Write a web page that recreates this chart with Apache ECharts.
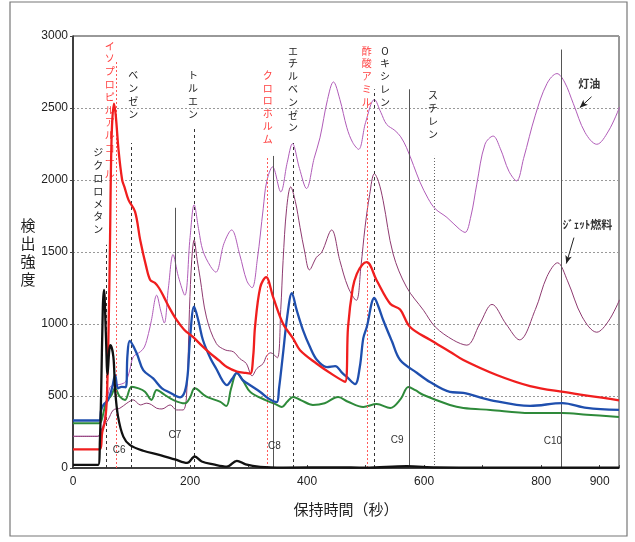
<!DOCTYPE html>
<html><head><meta charset="utf-8">
<script src="https://cdn.jsdelivr.net/npm/echarts@6/dist/echarts.min.js"></script>
<style>html,body{margin:0;padding:0;background:#fff}#c{width:635px;height:542px}</style>
</head><body><div id="c"></div>
<script>
// retention time (s) / detector response pairs
const kerosene = [[0,220],[42,220],[48,250],[53,330],[57,430],[63,560],[70,575],[80,580],[90,600],[97,680],[103,772],[115,807],[122,840],[129,934],[134,1026],[143,1200],[150,1090],[156,1007],[163,1250],[171,1482],[180,1330],[191,1200],[200,1600],[207,1828],[215,1650],[222,1509],[235,1400],[244,1360],[258,1560],[271,1653],[285,1480],[297,1300],[306,1252],[315,1450],[325,1800],[331,1990],[341,2091],[355,1918],[366,2120],[375,2252],[387,2080],[399,1941],[412,2150],[422,2293],[435,2560],[445,2681],[456,2560],[468,2363],[478,2260],[488,2213],[500,2400],[515,2559],[526,2470],[536,2386],[550,2344],[560,2300],[570,2224],[582,2100],[593,1985],[607,1870],[619,1800],[639,1740],[660,1660],[670,1636],[680,1750],[690,1971],[704,2248],[718,2305],[730,2220],[745,2060],[758,1994],[770,2150],[790,2450],[810,2670],[827,2739],[840,2680],[855,2530],[875,2330],[895,2248],[915,2340],[934,2506]];
const jetFuel = [[0,220],[42,220],[50,280],[60,335],[69,403],[80,415],[92,450],[103,473],[115,438],[126,450],[134,440],[143,415],[152,410],[166,438],[177,403],[188,403],[194,500],[199,1100],[203,1450],[207,1584],[212,1450],[217,1325],[228,1048],[245,864],[260,820],[274,807],[285,760],[296,726],[306,640],[314,690],[325,726],[331,780],[338,800],[349,765],[355,1100],[359,1440],[365,1800],[372,1952],[380,1850],[388,1671],[396,1500],[404,1376],[416,1463],[425,1498],[442,1653],[456,1440],[470,1256],[484,1164],[492,1400],[499,1671],[507,1900],[515,2044],[522,1990],[530,1856],[547,1487],[570,1256],[599,1095],[619,980],[650,888],[673,853],[695,1000],[716,1136],[740,1000],[763,890],[790,1100],[810,1330],[828,1425],[845,1300],[870,1050],[895,943],[915,1020],[934,1168]];
const green = [[0,310],[45,310],[49,334],[57,461],[65,500],[72,553],[80,495],[89,473],[100,564],[112,553],[123,530],[134,473],[143,541],[157,507],[171,473],[191,449],[200,490],[208,553],[228,495],[251,461],[262,430],[270,550],[280,660],[290,610],[303,528],[330,470],[345,445],[357,424],[366,460],[376,493],[390,470],[410,438],[430,450],[453,493],[470,460],[496,424],[519,444],[542,417],[560,480],[573,563],[585,540],[599,507],[644,438],[667,417],[713,403],[781,382],[836,382],[878,370],[933,354]];
const blue = [[0,330],[45,330],[48,400],[52,438],[60,473],[67,560],[72,645],[77,553],[83,564],[90,560],[93,780],[97,882],[109,795],[120,680],[137,622],[152,553],[166,523],[183,491],[191,530],[196,650],[200,900],[207,1120],[215,1010],[222,889],[235,760],[246,681],[255,610],[263,576],[272,620],[280,660],[290,610],[297,590],[320,528],[335,480],[348,458],[352,550],[359,798],[366,1050],[374,1215],[382,1100],[393,958],[405,840],[417,750],[434,701],[448,708],[460,660],[468,632],[482,583],[490,700],[496,900],[502,979],[515,1181],[522,1120],[530,1028],[545,880],[559,750],[588,660],[610,597],[644,528],[667,521],[713,472],[781,431],[836,451],[878,417],[933,403]];
const red = [[0,130],[45,130],[50,250],[55,334],[58,500],[61,1000],[63,1500],[66,2300],[70,2530],[73,2450],[78,2200],[84,2000],[88,1950],[95,1860],[106,1780],[115,1580],[125,1400],[132,1305],[140,1285],[147,1250],[155,1190],[165,1110],[177,1028],[190,960],[205,910],[220,850],[234,798],[250,745],[263,701],[280,670],[295,660],[303,656],[308,780],[311,979],[320,1256],[330,1326],[342,1186],[359,1002],[376,900],[388,818],[416,726],[445,645],[465,599],[470,979],[478,1250],[485,1348],[494,1410],[502,1429],[519,1302],[542,1141],[559,1100],[576,979],[610,890],[644,808],[667,750],[724,646],[781,569],[838,528],[933,470]];
const black = [[0,22],[43,22],[46,196],[48,500],[51,1118],[53,1236],[56,950],[59,650],[62,820],[64,853],[69,772],[72,541],[77,357],[86,218],[97,161],[120,120],[149,90],[174,60],[195,35],[208,80],[220,45],[240,25],[263,10],[280,50],[295,25],[320,8],[360,3],[450,5],[500,2],[570,12],[620,5],[700,2],[933,2]];

// reference lines: retention time, top of line (response units), kind
const refTimes = [56,74,100,174,207,332,343,377,503,515,574,618,835];
const refTops  = [1551,2824,2257,1807,2360,2167,2167,2257,2547,2630,2630,2167,2906];
const refKinds = ['dash','red','dash','solid','dash','red','solid','dash','red','dash','solid','dot','solid'];

const compoundNames  = ['ジクロロメタン','イソプロピルアルコール','ベンゼン','トルエン','クロロホルム','エチルベンゼン','酢酸アミル','Oキシレン','スチレン'];
const compoundLabelX = [43,63,103,205,333,376,502,533,615];
const compoundLabelY = [2235,2976,2770,2770,2773,2941,2941,2941,2630];
const compoundRed    = [false,true,false,false,true,false,true,false,false];

const carbonNames  = ['C6','C7','C8','C9','C10'];
const carbonLabelX = [79,174,344,554,820];
const carbonLabelY = [122,230,154,196,184];

const fuelNames  = ['灯油','ｼﾞｪｯﾄ燃料'];
const fuelLabelX = [882,879];
const fuelLabelY = [2671,1690];
const arrowFrom  = [[886,2578],[856,1600]];
const arrowTo    = [[866,2502],[843,1420]];

const xLabelsShown = [0,200,400,600,800,900];

const JP = '"Noto Sans CJK JP", sans-serif';
const NUM = '"Liberation Sans", Arial, sans-serif';

const kindStyle = {
  dash:  {color:'#333', width:1, type:[3,3]},
  red:   {color:'#ff5a5a', width:1, type:[2,2]},
  solid: {color:'#555', width:1, type:'solid'},
  dot:   {color:'#666', width:1, type:[1,2]}
};

const refLineData = refTimes.map((t,i)=>{
  const ls = kindStyle[refKinds[i]];
  return [{coord:[t,0], lineStyle:ls, symbol:'none'}, {coord:[t,refTops[i]], lineStyle:ls, symbol:'none'}];
});
const arrowData = arrowFrom.map((f,i)=>[
  {coord:f, lineStyle:{color:'#222',width:1,type:'solid'}, symbol:'none'},
  {coord:arrowTo[i], lineStyle:{color:'#222',width:1,type:'solid'}, symbol:'arrow', symbolSize:[5,8]}
]);

const points = [];
compoundNames.forEach((n,i)=>{
  points.push({coord:[compoundLabelX[i], compoundLabelY[i]], symbol:'circle', symbolSize:0,
    label:{show:true, position:[0,0], align:'center', verticalAlign:'top',
      formatter: n.split('').join('\n'), fontFamily:JP, fontSize:10, lineHeight:12.8,
      color: compoundRed[i] ? '#ff4040' : '#222'}});
});
carbonNames.forEach((n,i)=>{
  points.push({coord:[carbonLabelX[i], carbonLabelY[i]], symbol:'circle', symbolSize:0,
    label:{show:true, position:[0,0], align:'center', verticalAlign:'middle',
      formatter:n, fontFamily:NUM, fontSize:10, color:'#333'}});
});
fuelNames.forEach((n,i)=>{
  points.push({coord:[fuelLabelX[i], fuelLabelY[i]], symbol:'circle', symbolSize:0,
    label:{show:true, position:[0,0], align:'center', verticalAlign:'middle',
      formatter:n, fontFamily:JP, fontSize:11, fontWeight:'bold', color:'#333'}});
});

function lineSeries(name, data, color, width, z){
  return {name, type:'line', data, showSymbol:false, symbol:'none', smooth:0.35, z,
    lineStyle:{color, width}, itemStyle:{color}, animation:false};
}

const chart = echarts.init(document.getElementById('c'), null, {renderer:'canvas'});
chart.setOption({
  animation:false,
  backgroundColor:'#fff',
  graphic:[{type:'rect', shape:{x:10,y:2,width:617,height:534}, style:{fill:'none', stroke:'#777', lineWidth:1.2}, silent:true}],
  grid:{left:73, right:16, top:36, bottom:74, show:true, borderColor:'#333', borderWidth:1, backgroundColor:'transparent'},
  xAxis:{type:'value', min:0, max:933, interval:100,
    name:'保持時間（秒）', nameLocation:'middle', nameGap:34,
    nameTextStyle:{fontFamily:JP, fontSize:15, color:'#222'},
    axisLine:{show:true, onZero:false, lineStyle:{color:'#222', width:1.5}},
    axisTick:{show:true, inside:true, length:3, lineStyle:{color:'#444'}},
    axisLabel:{fontFamily:NUM, fontSize:12, color:'#222', margin:8,
      formatter:v=> xLabelsShown.includes(v) ? String(v) : ''},
    splitLine:{show:false}},
  yAxis:{type:'value', min:0, max:3000, interval:500,
    name:'検\n出\n強\n度', nameLocation:'middle', nameGap:37, nameRotate:0,
    nameTextStyle:{fontFamily:JP, fontSize:15, color:'#222', lineHeight:18},
    axisLine:{show:true, lineStyle:{color:'#222', width:1.5}},
    axisTick:{show:true, length:3, lineStyle:{color:'#444'}},
    axisLabel:{fontFamily:NUM, fontSize:12, color:'#222', margin:5, formatter:v=>String(v)},
    splitLine:{show:true, lineStyle:{color:'#999', type:[2,2], width:1}}},
  series:[
    lineSeries('灯油', kerosene, '#b05cb8', 1, 2),
    lineSeries('ジェット燃料', jetFuel, '#8e3a70', 1, 3),
    lineSeries('green', green, '#2e8a3a', 2, 4),
    lineSeries('blue', blue, '#1f4fae', 2.3, 5),
    lineSeries('red', red, '#f01e1e', 2.3, 6),
    Object.assign(lineSeries('black', black, '#111', 2.3, 7), {
      markLine:{silent:true, symbol:['none','none'], label:{show:false}, animation:false, data: refLineData.concat(arrowData)},
      markPoint:{silent:true, animation:false, data: points}
    })
  ]
});
</script></body></html>
